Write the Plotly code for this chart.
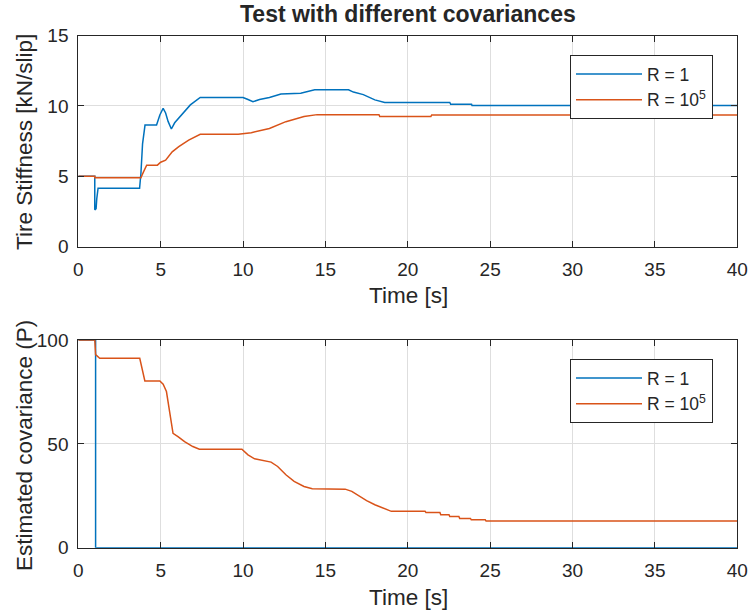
import plotly.graph_objects as go

# ---- data ----
t_stiff_r1 = [0, 1.0, 1.0, 1.08, 1.12, 1.2, 3.72, 3.8, 3.9, 4.05, 4.75, 4.95, 5.15, 5.3, 5.45, 5.65,
              5.85, 6.3, 6.8, 7.4, 10.0, 10.3, 10.6, 11.0, 11.6, 12.3, 13.5, 14.35, 16.4, 16.7,
              17.3, 18.0, 18.6, 22.55, 22.6, 23.87, 23.9, 40]
stiff_r1 = [5.0, 5.0, 2.62, 2.7, 3.4, 4.15, 4.15, 5.2, 7.3, 8.64, 8.64, 9.36, 9.83, 9.5, 8.9, 8.36,
            8.8, 9.4, 10.07, 10.6, 10.6, 10.45, 10.3, 10.45, 10.6, 10.85, 10.9, 11.14, 11.14, 10.98,
            10.8, 10.43, 10.24, 10.24, 10.12, 10.12, 10.02, 10.02]

t_stiff_r5 = [0, 1.0, 1.0, 3.8, 3.95, 4.15, 4.8, 5.0, 5.3, 5.7, 6.1, 6.7, 7.4, 9.7, 10.5, 11.6,
              12.6, 13.7, 14.5, 18.25, 18.3, 21.4, 21.45, 40]
stiff_r5 = [5.0, 5.0, 4.9, 4.9, 5.3, 5.79, 5.79, 6.0, 6.15, 6.74, 7.1, 7.57, 7.98, 7.98, 8.1, 8.4,
            8.88, 9.24, 9.38, 9.38, 9.24, 9.24, 9.36, 9.36]

t_cov_r1 = [0, 1.05, 1.05, 40]
cov_r1 = [100, 100, 0, 0]

t_cov_r5 = [0, 1.0, 1.05, 1.3, 3.73, 3.9, 4.04, 4.95, 5.15, 5.35, 5.55, 5.75, 6.05, 6.45, 6.95,
            7.35, 9.93, 10.3, 10.7, 11.7, 12.1, 12.6, 13.1, 13.7, 14.2, 16.2, 16.6, 17.0, 17.5,
            18.0, 18.5, 19.0, 21.05, 21.1, 21.95, 22.0, 22.5, 22.55, 23.1, 23.15, 23.8, 23.85,
            24.7, 24.75, 40]
cov_r5 = [100, 100, 93, 91.2, 91.2, 84.8, 80.3, 80.3, 78.7, 75.2, 64, 55.1, 53.5, 51.1, 48.7,
          47.4, 47.4, 44.7, 42.8, 41.2, 39.1, 35.1, 31.9, 29.5, 28.4, 28.2, 27.1, 25.0, 22.7,
          20.7, 19.1, 17.5, 17.5, 17.0, 17.0, 15.9, 15.9, 15.0, 15.0, 14.1, 14.1, 13.5,
          13.5, 12.8, 12.8]

series_names = ["R = 1", "R = 10<sup>5</sup>"]
x_ticks = [0, 5, 10, 15, 20, 25, 30, 35, 40]
stiff_ticks = [0, 5, 10, 15]
cov_ticks = [0, 50, 100]

title_text = "Test with different covariances"
xlabel = "Time [s]"
ylabel_top = "Tire Stiffness [kN/slip]"
ylabel_bot = "Estimated covariance (P)"

# ---- styles ----
W, H = 751, 613
BLUE = "#0072BD"
ORANGE = "#D95319"
AX = "#262626"
GRID = "#dedede"
FONT = "Liberation Sans, Arial, Helvetica, sans-serif"

fig = go.Figure()
fig.add_trace(go.Scatter(x=t_stiff_r1, y=stiff_r1, mode="lines", name=series_names[0],
                         line=dict(color=BLUE, width=1.5), xaxis="x", yaxis="y", legend="legend"))
fig.add_trace(go.Scatter(x=t_stiff_r5, y=stiff_r5, mode="lines", name=series_names[1],
                         line=dict(color=ORANGE, width=1.5), xaxis="x", yaxis="y", legend="legend"))
fig.add_trace(go.Scatter(x=t_cov_r1, y=cov_r1, mode="lines", name=series_names[0],
                         line=dict(color=BLUE, width=1.5), xaxis="x2", yaxis="y2", legend="legend2"))
fig.add_trace(go.Scatter(x=t_cov_r5, y=cov_r5, mode="lines", name=series_names[1],
                         line=dict(color=ORANGE, width=1.5), xaxis="x2", yaxis="y2", legend="legend2"))

xdom = [78.3 / W, 737.3 / W]
top_dom = [1 - 246.7 / H, 1 - 35.5 / H]
bot_dom = [1 - 547.7 / H, 1 - 340 / H]

axis_common = dict(showline=True, linecolor=AX, linewidth=1, mirror="allticks",
                   ticks="inside", ticklen=6, tickcolor=AX, tickwidth=1,
                   showgrid=True, gridcolor=GRID, gridwidth=1, zeroline=False,
                   tickfont=dict(family=FONT, size=19, color=AX), automargin=False)

legend_common = dict(xanchor="left", yanchor="top", bordercolor=AX, borderwidth=1, bgcolor="white",
                     font=dict(family=FONT, size=17.5, color=AX), itemwidth=66, tracegroupgap=0)

fig.update_layout(
    width=W, height=H,
    margin=dict(l=0, r=0, t=0, b=0),
    paper_bgcolor="white", plot_bgcolor="white",
    font=dict(family=FONT, color=AX),
    xaxis=dict(domain=xdom, anchor="y", range=[0, 40], tickvals=x_ticks, ticklabelstandoff=5, **axis_common),
    yaxis=dict(domain=top_dom, anchor="x", range=[0, 15], tickvals=stiff_ticks, ticklabelstandoff=5, **axis_common),
    xaxis2=dict(domain=xdom, anchor="y2", range=[0, 40], tickvals=x_ticks, ticklabelstandoff=5, **axis_common),
    yaxis2=dict(domain=bot_dom, anchor="x2", range=[0, 100], tickvals=cov_ticks, ticklabelstandoff=5, **axis_common),
    legend=dict(x=570 / W, y=1 - 55 / H, **legend_common),
    legend2=dict(x=570 / W, y=1 - 359 / H, **legend_common),
    showlegend=True,
)

ann = [
    dict(text="<b>" + title_text + "</b>", x=408 / W, y=1 - 14 / H, font=dict(size=23)),
    dict(text=xlabel, x=408 / W, y=1 - 295 / H, font=dict(size=22.5)),
    dict(text=xlabel, x=408 / W, y=1 - 597 / H, font=dict(size=22.5)),
    dict(text=ylabel_top, x=24 / W, y=1 - 142 / H, font=dict(size=22.5), textangle=-90),
    dict(text=ylabel_bot, x=24 / W, y=1 - 446 / H, font=dict(size=22.5), textangle=-90),
]
for a in ann:
    a.update(xref="paper", yref="paper", showarrow=False, xanchor="center", yanchor="middle")
    a["font"].update(family=FONT, color=AX)
fig.update_layout(annotations=ann)

fig.write_html("out.html")
